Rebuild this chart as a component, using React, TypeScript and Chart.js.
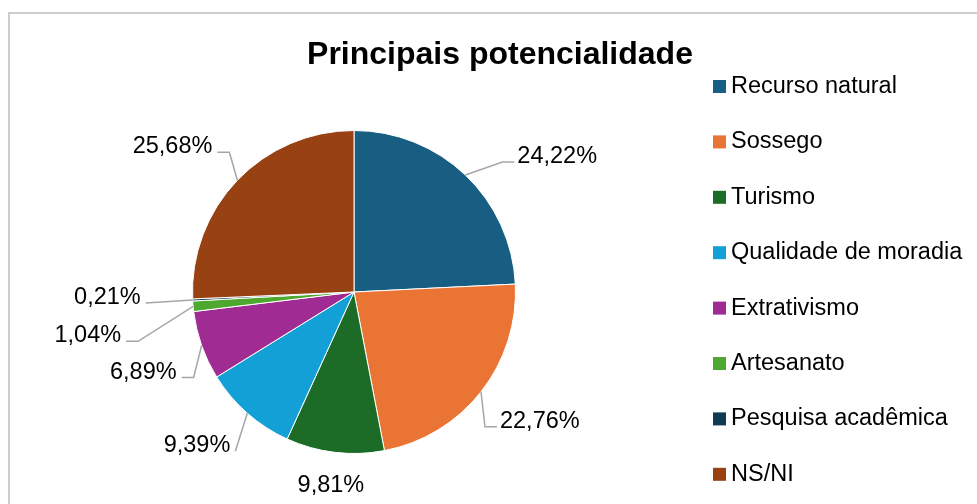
import React, { useEffect, useRef } from "react";
import { Chart, registerables } from "chart.js";

Chart.register(...registerables);

const title = "Principais potencialidade";
const categories = [
  "Recurso natural",
  "Sossego",
  "Turismo",
  "Qualidade de moradia",
  "Extrativismo",
  "Artesanato",
  "Pesquisa acadêmica",
  "NS/NI",
];
const values = [24.22, 22.76, 9.81, 9.39, 6.89, 1.04, 0.21, 25.68];
const valueLabels = ["24,22%", "22,76%", "9,81%", "9,39%", "6,89%", "1,04%", "0,21%", "25,68%"];
const colors = ["#175E82", "#EA7434", "#1C6B26", "#12A0D7", "#A02B93", "#4EA72E", "#0E3B52", "#984214"];

// leader-line styling per label: elbow offset from slice edge, horizontal tail, text side
const leaderStyle = [
  { ex: 37, ey: -13, tail: 12, side: "right", line: true },
  { ex: 4, ey: 35, tail: 12, side: "right", line: true },
  { ex: -4, ey: 40, tail: 0, side: "center", line: false },
  { ex: -12, ey: 38, tail: 0, side: "left", line: true },
  { ex: -8, ey: 32, tail: -12, side: "left", line: true },
  { ex: -55, ey: 35, tail: -12, side: "left", line: true },
  { ex: -47, ey: 3, tail: 0, side: "left", line: true },
  { ex: -8, ey: -28, tail: -12, side: "left", line: true },
];

const FONT = "'Liberation Sans', Arial, sans-serif";

const framePlugin = {
  id: "frame",
  beforeDraw(chart: any) {
    const ctx = chart.ctx;
    ctx.save();
    ctx.fillStyle = "#ffffff";
    ctx.fillRect(0, 0, chart.width, chart.height);
    ctx.strokeStyle = "#BFBFBF";
    ctx.lineWidth = 1.5;
    ctx.strokeRect(9, 13, chart.width + 20, chart.height + 20);
    ctx.restore();
  },
};

const titlePlugin = {
  id: "customTitle",
  afterDraw(chart: any) {
    const ctx = chart.ctx;
    ctx.save();
    ctx.fillStyle = "#000";
    ctx.font = `bold 32px ${FONT}`;
    ctx.textAlign = "center";
    ctx.textBaseline = "alphabetic";
    ctx.fillText(title, 500, 64);
    ctx.restore();
  },
};

const labelPlugin = {
  id: "pieLabels",
  afterDatasetsDraw(chart: any) {
    const ctx = chart.ctx;
    const meta = chart.getDatasetMeta(0);
    ctx.save();
    ctx.font = `23.5px ${FONT}`;
    ctx.fillStyle = "#000";
    ctx.textBaseline = "alphabetic";
    meta.data.forEach((arc: any, i: number) => {
      const p = arc.getProps(["x", "y", "startAngle", "endAngle", "outerRadius"], true);
      const mid = (p.startAngle + p.endAngle) / 2;
      const sx = p.x + Math.cos(mid) * p.outerRadius;
      const sy = p.y + Math.sin(mid) * p.outerRadius;
      const st = leaderStyle[i];
      const bx = sx + st.ex;
      const by = sy + st.ey;
      const tx = bx + st.tail;
      if (st.line) {
        ctx.strokeStyle = "#A6A6A6";
        ctx.lineWidth = 1.5;
        ctx.beginPath();
        ctx.moveTo(sx, sy);
        ctx.lineTo(bx, by);
        if (st.tail !== 0) ctx.lineTo(tx, by);
        ctx.stroke();
      }
      const text = valueLabels[i];
      if (st.side === "right") {
        ctx.textAlign = "left";
        ctx.fillText(text, tx + 3, by + 1);
      } else if (st.side === "left") {
        ctx.textAlign = "right";
        ctx.fillText(text, tx - 5, by + 1);
      } else {
        ctx.textAlign = "center";
        ctx.fillText(text, bx, by);
      }
    });
    ctx.restore();
  },
};

const legendPlugin = {
  id: "customLegend",
  afterDraw(chart: any) {
    const ctx = chart.ctx;
    const labels = chart.data.labels as string[];
    const bg = chart.data.datasets[0].backgroundColor as string[];
    ctx.save();
    ctx.font = `23.5px ${FONT}`;
    ctx.textAlign = "left";
    ctx.textBaseline = "alphabetic";
    labels.forEach((lab, i) => {
      const base = 93 + i * 55.4;
      ctx.fillStyle = bg[i];
      ctx.fillRect(713, base - 13, 13, 13);
      ctx.fillStyle = "#000";
      ctx.fillText(lab, 731, base);
    });
    ctx.restore();
  },
};

export default function App() {
  const ref = useRef<HTMLCanvasElement | null>(null);
  useEffect(() => {
    if (!ref.current) return;
    const chart = new Chart(ref.current, {
      type: "pie",
      data: {
        labels: categories,
        datasets: [
          {
            data: values,
            backgroundColor: colors,
            borderColor: "#ffffff",
            borderWidth: 1,
          },
        ],
      },
      options: {
        responsive: true,
        maintainAspectRatio: false,
        animation: false,
        layout: { padding: { left: 192, top: 130, right: 461, bottom: 50 } },
        plugins: {
          legend: { display: false },
          title: { display: false },
          tooltip: { enabled: false },
        },
      },
      plugins: [framePlugin, labelPlugin, titlePlugin, legendPlugin],
    });
    return () => chart.destroy();
  }, []);
  return (
    <div style={{ position: "absolute", left: 0, top: 0, width: 977, height: 504 }}>
      <canvas ref={ref} />
    </div>
  );
}
